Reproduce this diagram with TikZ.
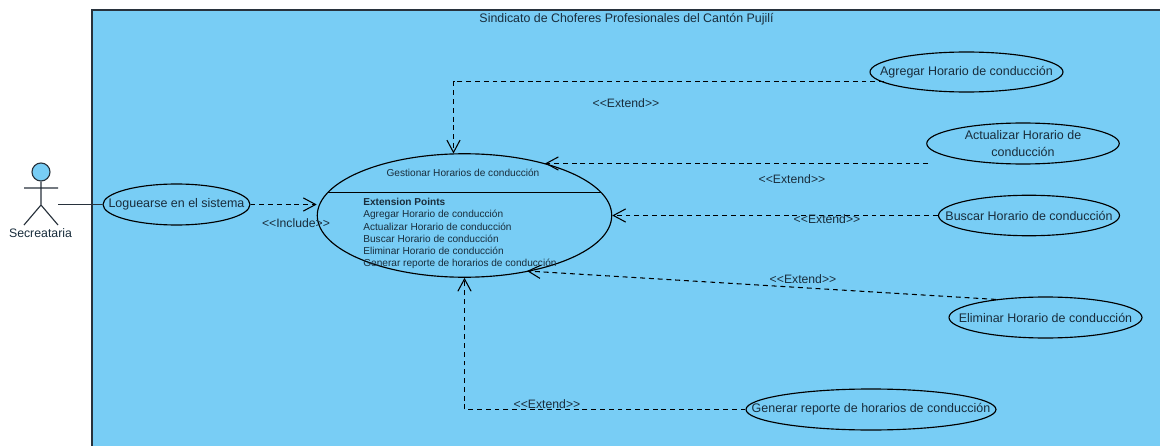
\documentclass[tikz,border=0pt]{standalone}
\usepackage{fontspec}
\setmainfont{Liberation Sans}
\usetikzlibrary{arrows.meta,shapes.geometric}
\definecolor{skyfill}{RGB}{120,205,245}
\definecolor{inkline}{RGB}{40,50,60}
\definecolor{inktext}{RGB}{25,45,60}
\tikzset{
 x=0.02cm,y=-0.02cm,
 uc/.style={draw=black,fill=skyfill,ellipse,inner sep=0pt,line width=0.65pt},
 uct/.style={text=inktext,align=center,inner sep=0pt,font=\fontsize{7.1}{9.3}\selectfont},
 lbl/.style={text=inktext,inner sep=0pt,font=\fontsize{6.95}{8}\selectfont},
 smalllbl/.style={text=inktext,inner sep=0pt,anchor=west,font=\fontsize{5.75}{7}\selectfont},
 rel/.style={draw=black,line width=0.6pt,dash pattern=on 2.8pt off 2.2pt,-{Straight Barb[length=7pt,width=7.5pt]}},
}
\begin{document}
\begin{tikzpicture}
\useasboundingbox (0,0) rectangle (1160,446);
\fill[white] (0,0) rectangle (1160,446);
\fill[skyfill] (92,10) rectangle (1160,446);
\draw[inkline,line width=0.8pt] (92,446) -- (92,10) -- (1160,10);
\node[lbl,font=\fontsize{7.05}{8}\selectfont] (title) at (626.5,19) {Sindicato de Choferes Profesionales del Cantón Pujilí};
% actor
\node[draw=inkline,fill=skyfill,circle,minimum size=0.36cm,inner sep=0pt,line width=0.65pt] (head) at (41,172) {};
\coordinate (hip) at (41,205);
\coordinate (armL) at (24,188);
\coordinate (armR) at (58,188);
\coordinate (legL) at (24,225);
\coordinate (legR) at (58,225);
\draw[inkline,line width=0.65pt] (head) -- (hip) (armL) -- (armR) (legL) -- (hip) -- (legR);
\node[lbl,font=\fontsize{7}{8}\selectfont] (actor) at (40.5,233) {Secreataria};
% use cases
\node[uc,minimum width=2.94cm,minimum height=0.82cm,label={[uct]center:Loguearse en el sistema}] (login) at (176.5,204.5) {};
\node[uc,minimum width=5.89cm,minimum height=2.47cm] (main) at (464.5,215.5) {};
\node[uc,minimum width=3.86cm,minimum height=0.8cm,label={[uct]center:Agregar Horario de conducción}] (agregar) at (966.5,72) {};
\node[uc,minimum width=3.85cm,minimum height=0.82cm,label={[uct]center:Actualizar Horario de\\conducción}] (actualizar) at (1023,143.5) {};
\node[uc,minimum width=3.62cm,minimum height=0.81cm,label={[uct]center:Buscar Horario de conducción}] (buscar) at (1029,215.5) {};
\node[uc,minimum width=3.86cm,minimum height=0.82cm,label={[uct]center:Eliminar Horario de conducción}] (eliminar) at (1045.5,317.5) {};
\node[uc,minimum width=5cm,minimum height=0.82cm,label={[uct]center:Generar reporte de horarios de conducción}] (generar) at (871,409.5) {};
% main compartment
\coordinate (sepL) at (328,192.5);
\coordinate (sepR) at (601,192.5);
\draw[black,line width=0.65pt] (sepL) -- (sepR);
\node[lbl,font=\fontsize{5.75}{7}\selectfont] (mname) at (463,173) {Gestionar Horarios de conducción};
\node[smalllbl,font=\fontsize{5.75}{7}\selectfont\bfseries] (ep) at (363,202) {Extension Points};
\node[smalllbl] (e1) at (363,214.5) {Agregar Horario de conducción};
\node[smalllbl] (e2) at (363,226.5) {Actualizar Horario de conducción};
\node[smalllbl] (e3) at (363,239) {Buscar Horario de conducción};
\node[smalllbl] (e4) at (363,251) {Eliminar Horario de conducción};
\node[smalllbl] (e5) at (363,263.5) {Generar reporte de horarios de conducción};
% connectors
\coordinate (actorhand) at (58,204.5);
\draw[inkline,line width=0.8pt] (actorhand) -- (login.west);
\draw[rel] (login.east) -- (main.west |- login.east);
\coordinate (a1) at (453.5,81.5);
\coordinate (u1) at (884,81.5);
\coordinate (a2) at (453.5,153.5);
\draw[rel] (u1) -- (a1) -- (a2);
\coordinate (u2) at (928,163.5);
\coordinate (t2) at (545,163.5);
\draw[rel] (u2) -- (t2);
\draw[rel] (buscar.west) -- (main.east);
\coordinate (t4) at (527,271);
\draw[rel] (eliminar.160) -- (t4);
\coordinate (g1) at (464.5,409.5);
\draw[rel] (generar.west) -- (g1) -- (main.south);
% labels
\node[lbl] (l0) at (296,223) {<{}<Include>{}>};
\node[lbl] (l1) at (626,103) {<{}<Extend>{}>};
\node[lbl] (l2) at (792,179) {<{}<Extend>{}>};
\node[lbl] (l3) at (827,219) {<{}<Extend>{}>};
\node[lbl] (l4) at (803,279) {<{}<Extend>{}>};
\node[lbl] (l5) at (547,404) {<{}<Extend>{}>};
\end{tikzpicture}
\end{document}
